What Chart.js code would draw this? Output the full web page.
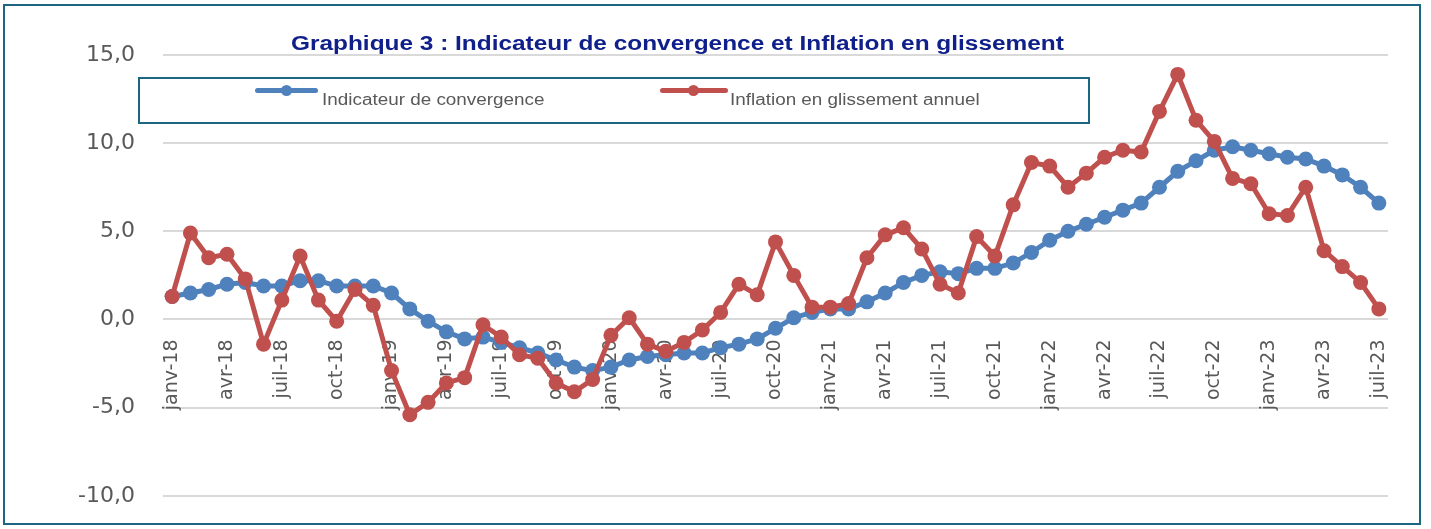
<!DOCTYPE html>
<html lang="fr">
<head>
    <meta charset="UTF-8">
    <title>Graphique 3</title>
    <script src="https://cdn.jsdelivr.net/npm/chart.js"></script>
    <style>
        body { margin: 0; background: #fff; overflow: hidden; }
        .frame {
            position: absolute; left: 3px; top: 4px; width: 1414px; height: 517px;
            border: 2px solid #1c6682;
        }
        .chart-box { position: absolute; left: 0; top: 0; width: 1431px; height: 537px; }
        .title {
            position: absolute; left: 291px; top: 32px; white-space: nowrap;
            font: bold 20px "Liberation Sans", Arial, sans-serif; color: #10208a;
            transform: scaleX(1.22); transform-origin: left center;
        }
        .legend {
            position: absolute; left: 138px; top: 77px; width: 948px; height: 43px;
            border: 2px solid #1c6682; background: #fff;
        }
        .leg-item {
            position: absolute; top: 12px; white-space: nowrap;
            font: 16px "Liberation Sans", sans-serif; color: #595959;
            transform: scaleX(1.18); transform-origin: left center;
        }
        .leg-line { position: absolute; top: 9px; height: 5px; border-radius: 3px; }
        .leg-dot { position: absolute; top: 6px; width: 11px; height: 11px; border-radius: 50%; }
    </style>
</head>
<body>
    <div class="chart-box"><canvas id="chart"></canvas></div>
    <div class="frame"></div>
    <div class="title">Graphique 3 : Indicateur de convergence et Inflation en glissement</div>
    <div class="legend">
        <span class="leg-line" style="left:115px;width:63px;background:#4f81bd"></span>
        <span class="leg-dot" style="left:141px;background:#4f81bd"></span>
        <span class="leg-item" style="left:182px">Indicateur de convergence</span>
        <span class="leg-line" style="left:520px;width:68px;background:#c0504d"></span>
        <span class="leg-dot" style="left:548px;background:#c0504d"></span>
        <span class="leg-item" style="left:590px">Inflation en glissement annuel</span>
    </div>
    <script>
        const months = ['janv', 'févr', 'mars', 'avr', 'mai', 'juin', 'juil', 'août', 'sept', 'oct', 'nov', 'déc'];
        const years = ['18', '19', '20', '21', '22', '23'];
        const labels = [];
        years.forEach(y => months.forEach(m => labels.push(m + '-' + y)));
        labels.length = 67; // janv-18 .. juil-23

        const convergence = [
            1.3, 1.5, 1.7, 2.0, 2.1, 1.9, 1.9, 2.2, 2.2, 1.9, 1.9, 1.9,
            1.5, 0.6, -0.1, -0.7, -1.1, -1.0, -1.3, -1.6, -1.9, -2.3, -2.7, -2.9,
            -2.7, -2.3, -2.1, -2.0, -1.9, -1.9, -1.6, -1.4, -1.1, -0.5, 0.1, 0.4,
            0.6, 0.6, 1.0, 1.5, 2.1, 2.5, 2.7, 2.6, 2.9, 2.9, 3.2, 3.8,
            4.5, 5.0, 5.4, 5.8, 6.2, 6.6, 7.5, 8.4, 9.0, 9.6, 9.8, 9.6,
            9.4, 9.2, 9.1, 8.7, 8.2, 7.5, 6.6
        ];
        const inflation = [
            1.3, 4.9, 3.5, 3.7, 2.3, -1.4, 1.1, 3.6, 1.1, -0.1, 1.7, 0.8,
            -2.9, -5.4, -4.7, -3.6, -3.3, -0.3, -1.0, -2.0, -2.2, -3.6, -4.1, -3.4,
            -0.9, 0.1, -1.4, -1.8, -1.3, -0.6, 0.4, 2.0, 1.4, 4.4, 2.5, 0.7,
            0.7, 0.9, 3.5, 4.8, 5.2, 4.0, 2.0, 1.5, 4.7, 3.6, 6.5, 8.9,
            8.7, 7.5, 8.3, 9.2, 9.6, 9.5, 11.8, 13.9, 11.3, 10.1, 8.0, 7.7,
            6.0, 5.9, 7.5, 3.9, 3.0, 2.1, 0.6
        ];
        const yTicks = [-10, -5, 0, 5, 10, 15];

        const blue = '#4f81bd';
        const red = '#c0504d';

        new Chart(document.getElementById('chart'), {
            type: 'line',
            data: {
                labels: labels,
                datasets: [{
                    label: 'Indicateur de convergence',
                    data: convergence,
                    borderColor: blue,
                    backgroundColor: blue,
                    borderWidth: 5,
                    pointRadius: 7.5,
                    pointHoverRadius: 7.5,
                    pointBorderWidth: 0,
                    order: 1
                }, {
                    label: 'Inflation en glissement annuel',
                    data: inflation,
                    borderColor: red,
                    backgroundColor: red,
                    borderWidth: 5,
                    pointRadius: 7.5,
                    pointHoverRadius: 7.5,
                    pointBorderWidth: 0,
                    order: 0
                }]
            },
            options: {
                responsive: true,
                maintainAspectRatio: false,
                animation: false,
                layout: { padding: { left: 0, top: 55, right: 43, bottom: 25 } },
                plugins: { legend: { display: false }, tooltip: { enabled: false } },
                scales: {
                    x: {
                        position: { y: 0 },
                        offset: true,
                        grid: { display: false, drawTicks: false },
                        border: { display: false },
                        ticks: {
                            autoSkip: false,
                            minRotation: 90,
                            maxRotation: 90,
                            padding: 20,
                            color: '#595959',
                            font: { family: 'DejaVu Sans', size: 19 },
                            callback: (v, i) => i % 3 === 0 ? labels[i] : ''
                        }
                    },
                    y: {
                        min: yTicks[0],
                        max: yTicks[yTicks.length - 1],
                        afterBuildTicks: s => { s.ticks = yTicks.map(v => ({ value: v })); },
                        afterFit: s => { s.width = 163; },
                        grid: { color: '#d9d9d9', lineWidth: 2, drawTicks: false },
                        border: { display: false },
                        ticks: {
                            padding: 28,
                            color: '#595959',
                            font: { family: 'DejaVu Sans', size: 22 },
                            callback: v => v.toFixed(1).replace('.', ',')
                        }
                    }
                }
            }
        });
    </script>
</body>
</html>
